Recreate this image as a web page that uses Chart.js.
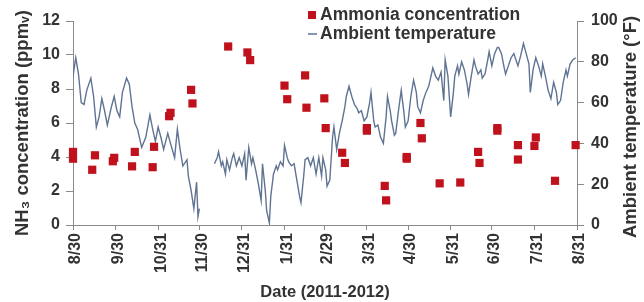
<!DOCTYPE html>
<html>
<head>
<meta charset="utf-8">
<script src="https://cdn.jsdelivr.net/npm/chart.js@4"></script>
<style>
  html, body { margin: 0; padding: 0; background: #fff; }
  #wrap { width: 644px; height: 302px; }
</style>
</head>
<body>
<div id="wrap"><canvas id="chart" width="644" height="302"></canvas></div>
<script>
// days counted from 8/30/2011
const tickDays = [0, 31, 62, 92, 123, 154, 183, 214, 244, 275, 305, 336, 367];
const tickLabels = ['8/30', '9/30', '10/31', '11/30', '12/31', '1/31', '2/29',
                    '3/31', '4/30', '5/31', '6/30', '7/31', '8/31'];

// ammonia samples (ppmv)
const ammoniaDays = [0, 0, 14, 16, 29, 30, 43, 45, 58, 59, 70, 71, 86, 87, 113, 127, 129,
                     154, 156, 169, 170, 183, 184, 196, 198, 214, 214, 227, 228, 243, 243,
                     253, 254, 267, 282, 295, 296, 309, 309, 324, 324, 336, 337, 351, 366];
const ammoniaPpm = [4.3, 3.9, 3.25, 4.1, 3.75, 3.95, 3.45, 4.3, 3.4, 4.6, 6.4, 6.6, 7.95, 7.15,
                    10.5, 10.15, 9.7, 8.2, 7.4, 8.8, 6.9, 7.45, 5.7, 4.25, 3.65, 5.7, 5.55,
                    2.3, 1.45, 4.0, 3.9, 6.0, 5.1, 2.45, 2.5, 4.3, 3.65, 5.7, 5.55, 4.7, 3.85,
                    4.65, 5.15, 2.6, 4.7];

// ambient temperature (F), null = missing data
const tempDays = [0, 2, 4, 6, 8, 10, 13, 15, 17, 19, 21, 23, 25, 28, 30, 32, 34, 36, 39, 41,
                  43, 45, 47, 50, 53, 56, 58, 60, 62, 64, 66, 69, 71, 74, 76, 78, 80, 83, 84,
                  86, 88, 90, 91, 92,
                  97,
                  103, 105, 106, 108, 109, 111, 112, 114, 116, 117, 119, 121, 123, 125, 126,
                  128, 130, 131, 133, 135, 137, 138, 140, 141, 143, 144, 146, 148, 149, 151,
                  153, 154, 156, 157, 159, 161, 163, 165, 166, 168, 169, 171, 173, 175, 177,
                  179, 181, 182, 184, 185, 187, 189, 190, 192, 194, 196, 198, 199, 201, 203,
                  205, 207, 208, 210, 212, 214, 216, 217, 219, 220, 222, 224, 226, 228, 229,
                  231, 232, 234, 235, 237, 239, 241, 242, 244, 246, 248, 250, 251, 253, 255,
                  257, 259, 261, 262, 264, 266, 268, 270, 271, 273, 275, 277, 278, 280, 281,
                  283, 285, 287, 288, 290, 292, 293, 295, 297, 298, 300, 302, 303, 305, 307,
                  309, 310, 312, 314, 315, 317, 319, 321, 323, 324, 326, 328, 330, 332, 333,
                  335, 337, 339, 341, 342, 344, 346, 348, 350, 352, 353, 355, 357, 359, 360,
                  362, 364, 366];
const tempF = [73, 82, 74, 60, 59, 66, 72, 63, 48, 53, 62, 56, 49, 58, 63, 56, 53, 65, 72, 69,
               58, 50, 47, 38, 43, 54, 47, 41, 48, 43, 37, 45, 40, 33, 47, 37, 29, 32, 24,
               17, 8, 21, 4, 8,
               null,
               30, 33, 36, 29, 31, 25, 32, 27, 33, 35, 29, 33, 29, 35, 22,
               38, 30, 33, 27, 20, 12, 30, 17, 7, 1, 14, 25, 29, 27, 31,
               29, 39, 33, 31, 29, 30, 22, 14, 11, 24, 32, 33, 29, 33, 25,
               33, 24, 33, 27, 19, 22, 43, 48, 37, 45, 51, 58, 63, 68, 63,
               59, 57, 55, 56, 51, 53, 60, 65, 51, 48, 49, 43, 40, 53, 63,
               56, 51, 44, 45, 56, 66, 55, 48, 51, 63, 71, 65, 58, 55, 61,
               65, 68, 74, 77, 73, 71, 75, 61, 81, 73, 53, 65, 73, 78, 74,
               80, 76, 69, 64, 73, 81, 78, 74, 76, 72, 74, 81, 85, 78, 84,
               87, 87, 84, 77, 74, 78, 82, 84, 80, 78, 83, 89, 84, 79, 65,
               76, 82, 78, 73, 79, 73, 66, 62, 70, 65, 59, 61, 70, 76, 73,
               79, 81, 82];

const textColor = '#333';
const fontFamily = "'Liberation Sans', Arial, sans-serif";
const axisColor = '#8a8a8a';
const rightTitle = 'Ambient temperature (\u00b0F)';

// legend sits over the top of the plot, and the right title reads bottom-to-top
const extras = {
    id: 'extras',
    afterDraw(chart) {
        const ctx = chart.ctx;
        const [amm, temp] = chart.data.datasets;
        const x = chart.chartArea.left + 235;
        ctx.save();
        ctx.font = 'bold 17.5px ' + fontFamily;
        ctx.textBaseline = 'middle';
        ctx.fillStyle = amm.backgroundColor;
        ctx.fillRect(x, 11, 8, 8);
        ctx.fillStyle = textColor;
        ctx.fillText(amm.label, x + 12, 15);
        ctx.strokeStyle = temp.borderColor;
        ctx.lineWidth = 1.5;
        ctx.beginPath();
        ctx.moveTo(x, 34);
        ctx.lineTo(x + 9, 34);
        ctx.stroke();
        ctx.fillText(temp.label, x + 12, 34);

        const s = chart.scales.y2;
        ctx.font = 'bold 18.5px ' + fontFamily;
        ctx.textAlign = 'center';
        ctx.translate(s.right - 10, (chart.chartArea.top + chart.chartArea.bottom) / 2 + 4);
        ctx.rotate(-Math.PI / 2);
        ctx.fillText(rightTitle, 0, 0);
        ctx.restore();
    }
};

Chart.defaults.font.family = fontFamily;
Chart.defaults.font.weight = 'bold';
Chart.defaults.color = textColor;

const ctx = document.getElementById('chart').getContext('2d');
new Chart(ctx, {
    type: 'line',
    data: {
        datasets: [{
            label: 'Ammonia concentration',
            data: ammoniaDays.map((d, i) => ({ x: d, y: ammoniaPpm[i] })),
            showLine: false,
            pointStyle: 'rect',
            pointRadius: 5.8,
            backgroundColor: '#c0121c',
            borderColor: '#c0121c',
            borderWidth: 0,
            yAxisID: 'y',
            clip: false
        }, {
            label: 'Ambient temperature',
            data: tempDays.map((d, i) => ({ x: d, y: tempF[i] })),
            borderColor: '#5f7392',
            borderWidth: 1.4,
            pointRadius: 0,
            tension: 0,
            spanGaps: false,
            yAxisID: 'y2'
        }]
    },
    options: {
        responsive: false,
        animation: false,
        devicePixelRatio: 1,
        layout: { padding: { left: 12, right: 3, top: 21, bottom: 0 } },
        plugins: {
            legend: { display: false },
            tooltip: { enabled: false }
        },
        scales: {
            x: {
                type: 'linear',
                min: 0,
                max: 367,
                afterBuildTicks: (scale) => { scale.ticks = tickDays.map(v => ({ value: v })); },
                afterFit: (scale) => { scale.height = 77; },
                ticks: {
                    autoSkip: false,
                    maxRotation: 90,
                    minRotation: 90,
                    padding: 3,
                    labelOffset: 3,
                    font: { size: 16 },
                    callback: (v, i) => tickLabels[i]
                },
                grid: { drawOnChartArea: false, drawTicks: true, tickLength: 5, color: axisColor },
                border: { color: axisColor },
                title: {
                    display: true,
                    text: 'Date (2011-2012)',
                    font: { size: 16.5 },
                    padding: { top: 0, bottom: 0 }
                }
            },
            y: {
                position: 'left',
                min: 0,
                max: 12,
                afterFit: (scale) => { scale.width = 61; },
                ticks: { stepSize: 2, padding: 6, font: { size: 16 } },
                grid: { drawOnChartArea: false, drawTicks: true, tickLength: 7, color: axisColor },
                border: { color: axisColor },
                title: {
                    display: true,
                    text: 'NH\u2083 concentration (ppm\u1d65)',
                    font: { size: 18.5 },
                    padding: { top: 0, bottom: 0 }
                }
            },
            y2: {
                position: 'right',
                min: 0,
                max: 100,
                afterFit: (scale) => { scale.width = 64; },
                ticks: { stepSize: 20, padding: 7, font: { size: 16 } },
                grid: { drawOnChartArea: false, drawTicks: true, tickLength: 7, color: axisColor },
                border: { color: axisColor },
                title: { display: false }
            }
        }
    },
    plugins: [extras]
});
</script>
</body>
</html>
